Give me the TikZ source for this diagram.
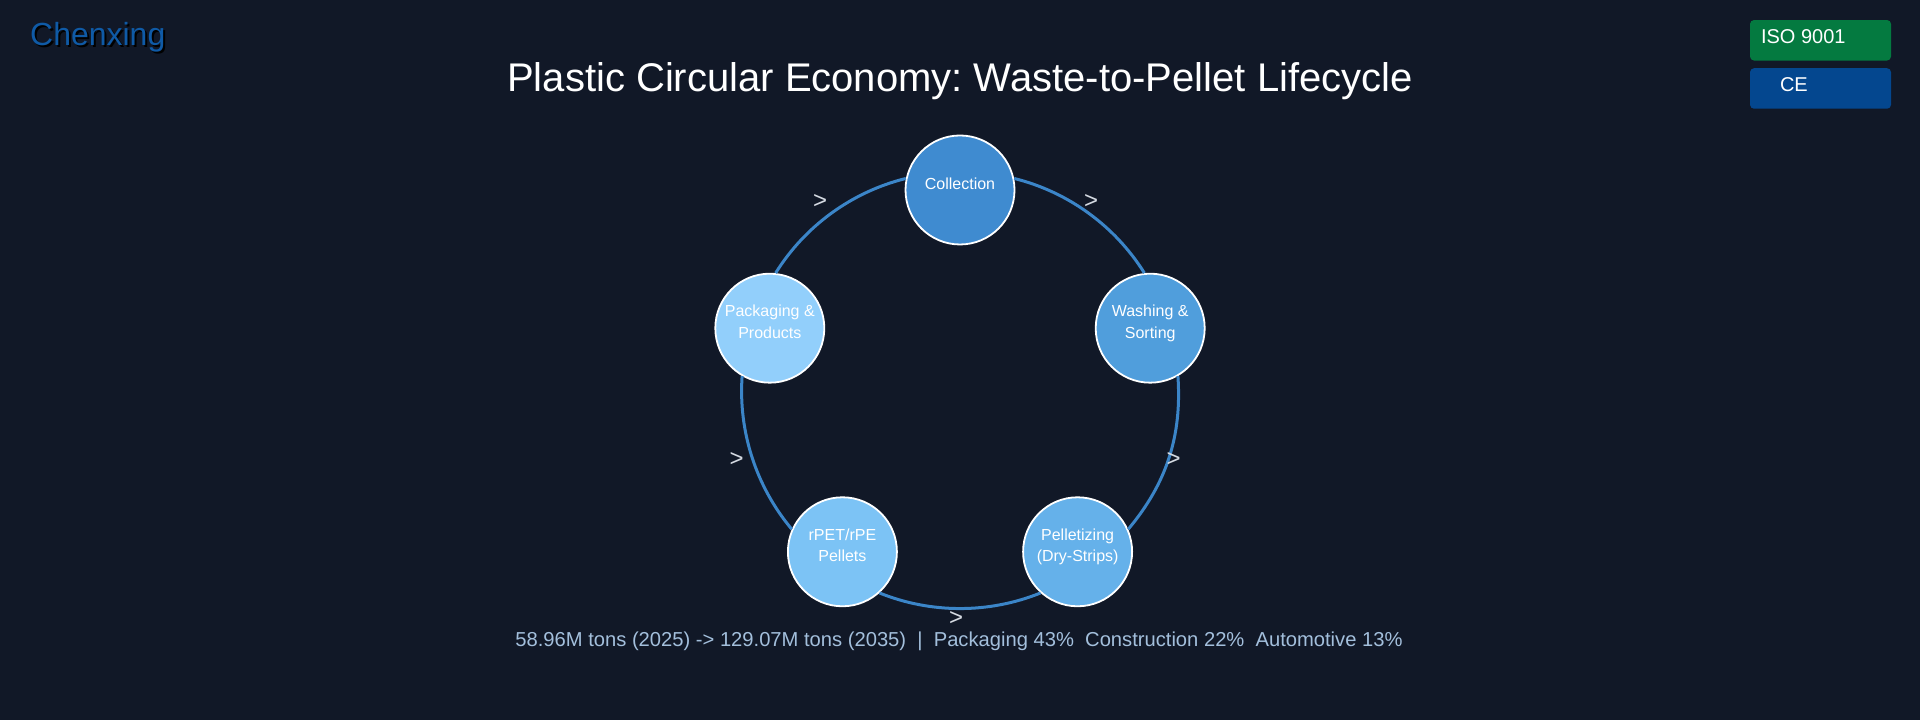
\documentclass[tikz,border=0pt]{standalone}
\usepackage{fontspec}
\setmainfont{Liberation Sans}
\frenchspacing
\definecolor{pagebg}{HTML}{111827}
\definecolor{ringblue}{HTML}{3B85C8}
\definecolor{logoblue}{HTML}{0F5AA6}
\definecolor{isogreen}{HTML}{047A40}
\definecolor{ceblue}{HTML}{04478F}
\definecolor{captionblue}{HTML}{A3BFDC}
\definecolor{markgrey}{HTML}{D5DAE2}
\definecolor{stepa}{HTML}{3F8BD0}
\definecolor{stepb}{HTML}{509EDC}
\definecolor{stepc}{HTML}{65B1EA}
\definecolor{stepd}{HTML}{7CC3F5}
\definecolor{stepe}{HTML}{92CFFB}
\begin{document}
\begin{tikzpicture}[
	stepnode/.style={circle, draw=white, line width=0.018cm, minimum size=1.09cm, inner sep=0pt, text=white, align=center,
		font=\fontsize{4.55}{6.15}\selectfont,
		execute at begin node={\rule{0pt}{0.12cm}}, execute at end node={\rule[-0.135cm]{0pt}{0pt}}},
	ring/.style={line width=0.03cm, ringblue, looseness=0.884},
	turnmark/.style={markgrey, inner sep=0pt, font=\fontsize{6.83}{8}\selectfont},
	badge/.style={rounded corners=0.04cm, minimum width=1.41cm, minimum height=0.405cm, inner sep=0pt},
	badgetext/.style={white, inner sep=0pt, anchor=base west, font=\fontsize{5.69}{6.8}\selectfont},
	logotext/.style={inner sep=0pt, anchor=base west, font=\fontsize{9.1}{11}\selectfont}
	]
	% Fundo
	\fill[pagebg] (0,0) rectangle (19.2,7.2);
	\useasboundingbox (0,0) rectangle (19.2,7.2);

	% Titulo e marca
	\node[logotext, black] (logoshadow) at (0.315,6.72) {Chenxing};
	\node[logotext, logoblue] (logo) at (0.295,6.74) {Chenxing};
	\node[white, inner sep=0pt, anchor=base, font=\fontsize{11.38}{13.6}\selectfont] (title) at (9.6,6.28) {Plastic Circular Economy: Waste-to-Pellet Lifecycle};

	% Selos
	\node[badge, fill=isogreen] (iso) at (18.205,6.797) {};
	\node[badge, fill=ceblue] (ce) at (18.205,6.315) {};
	\node[badgetext] (isotext) at ([shift={(0.11,-0.03)}]iso.west) {ISO 9001};
	\node[badgetext] (cetext) at ([shift={(0.30,-0.03)}]ce.west) {CE};

	% Etapas
	\node[stepnode, fill=stepa] (collection) at (9.6,5.3) {Collection};
	\node[stepnode, fill=stepb] (washing) at (11.502,3.918) {Washing \&\\Sorting};
	\node[stepnode, fill=stepc] (pelletizing) at (10.776,1.682) {Pelletizing\\(Dry-Strips)};
	\node[stepnode, fill=stepd] (pellets) at (8.424,1.682) {rPET/rPE\\Pellets};
	\node[stepnode, fill=stepe] (packaging) at (7.698,3.918) {Packaging \&\\Products};

	% Anel
	\draw[ring] (collection.12) to[out=-14, in=122] (washing.96);
	\draw[ring] (washing.-60) to[out=-86, in=50, looseness=0.95] (pelletizing.24);
	\draw[ring] (pelletizing.-132) to[out=-158, in=-22] (pellets.-48);
	\draw[ring] (pellets.156) to[out=130, in=-94] (packaging.-120);
	\draw[ring] (packaging.84) to[out=58, in=194] (collection.168);

	% Setas
	\node[turnmark] (turna) at (10.91,5.18) {>};
	\node[turnmark] (turnb) at (11.737,2.60) {>};
	\node[turnmark] (turnc) at (9.56,1.01) {>};
	\node[turnmark] (turnd) at (7.367,2.60) {>};
	\node[turnmark] (turne) at (8.20,5.18) {>};

	% Legenda
	\node[captionblue, inner sep=0pt, anchor=base, font=\fontsize{5.74}{6.8}\selectfont] (caption) at (9.59,0.733) {58.96M tons (2025) -> 129.07M tons (2035)\ \ |\ \ Packaging 43\%\ \ Construction 22\%\ \ Automotive 13\%};
\end{tikzpicture}
\end{document}
